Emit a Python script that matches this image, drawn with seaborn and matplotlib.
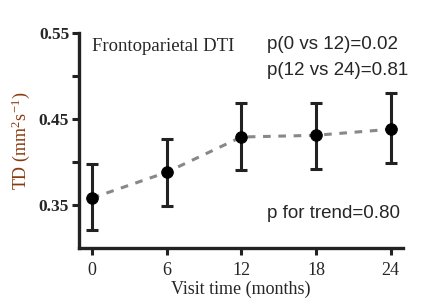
import numpy as np
import pandas as pd
import matplotlib
matplotlib.use('Agg')
import matplotlib.pyplot as plt
import seaborn as sns

# 数据
months = [0, 6, 12, 18, 24]
td_mean = [0.358, 0.388, 0.429, 0.431, 0.438]
td_upper = [0.398, 0.427, 0.468, 0.469, 0.480]
td_lower = [0.321, 0.349, 0.391, 0.392, 0.399]
y_ticks = [0.35, 0.45, 0.55]
y_minor = [0.40, 0.50]

sns.set_style('ticks')
plt.rcParams['font.family'] = ['Liberation Serif', 'DejaVu Serif']
plt.rcParams['mathtext.fontset'] = 'stix'

df = pd.DataFrame({'month': months, 'td': td_mean})
yerr = [np.array(td_mean) - np.array(td_lower), np.array(td_upper) - np.array(td_mean)]

fig = plt.figure(figsize=(4.22, 3.05), dpi=100)
ax = fig.add_axes([0.187, 0.187, 0.768, 0.705])

ax.errorbar(months, td_mean, yerr=yerr, fmt='none', ecolor='#222222',
            elinewidth=2.2, capsize=4.5, capthick=2.2, zorder=2)
sns.lineplot(data=df, x='month', y='td', ax=ax, color='#888888', linestyle=(0, (2.5, 2.5)),
             linewidth=2.2, zorder=3)
sns.scatterplot(data=df, x='month', y='td', ax=ax, color='black', s=70, edgecolor='black',
                zorder=4)

ax.set_xlim(-1.05, 25)
ax.set_ylim(0.30, 0.55)
ax.set_xticks(months)
ax.set_yticks(y_ticks)
ax.set_yticks(y_minor, minor=True)
ax.set_yticklabels([f'{v:.2f}' for v in y_ticks], fontweight='bold', fontsize=12.5)
ax.set_xticklabels([str(m) for m in months], fontsize=13)

sns.despine(ax=ax)
for s in ['left', 'bottom']:
    ax.spines[s].set_linewidth(2.4)
    ax.spines[s].set_color('#222222')
ax.tick_params(axis='both', which='both', width=2.2, color='#222222', length=5, pad=2)
ax.tick_params(axis='x', pad=5)

ax.set_xlabel('Visit time (months)', fontsize=13, labelpad=1)
ax.set_ylabel('TD (mm$^{\\mathregular{2}}$s$^{\\mathregular{-1}}$)', fontsize=13,
              color='#8B3A0E', labelpad=5)

ax.text(0.04, 0.935, 'Frontoparietal DTI', transform=ax.transAxes, fontsize=13.5,
        va='center', ha='left')
sans = ['Liberation Sans', 'DejaVu Sans']
ax.text(14.05, 0.5365, 'p(0 vs 12)=0.02', fontsize=13.5, family=sans, va='center', ha='left')
ax.text(14.05, 0.5065, 'p(12 vs 24)=0.81', fontsize=13.5, family=sans, va='center', ha='left')
ax.text(14.05, 0.3405, 'p for trend=0.80', fontsize=13.5, family=sans, va='center', ha='left')

fig.savefig('out.png', dpi=100)
